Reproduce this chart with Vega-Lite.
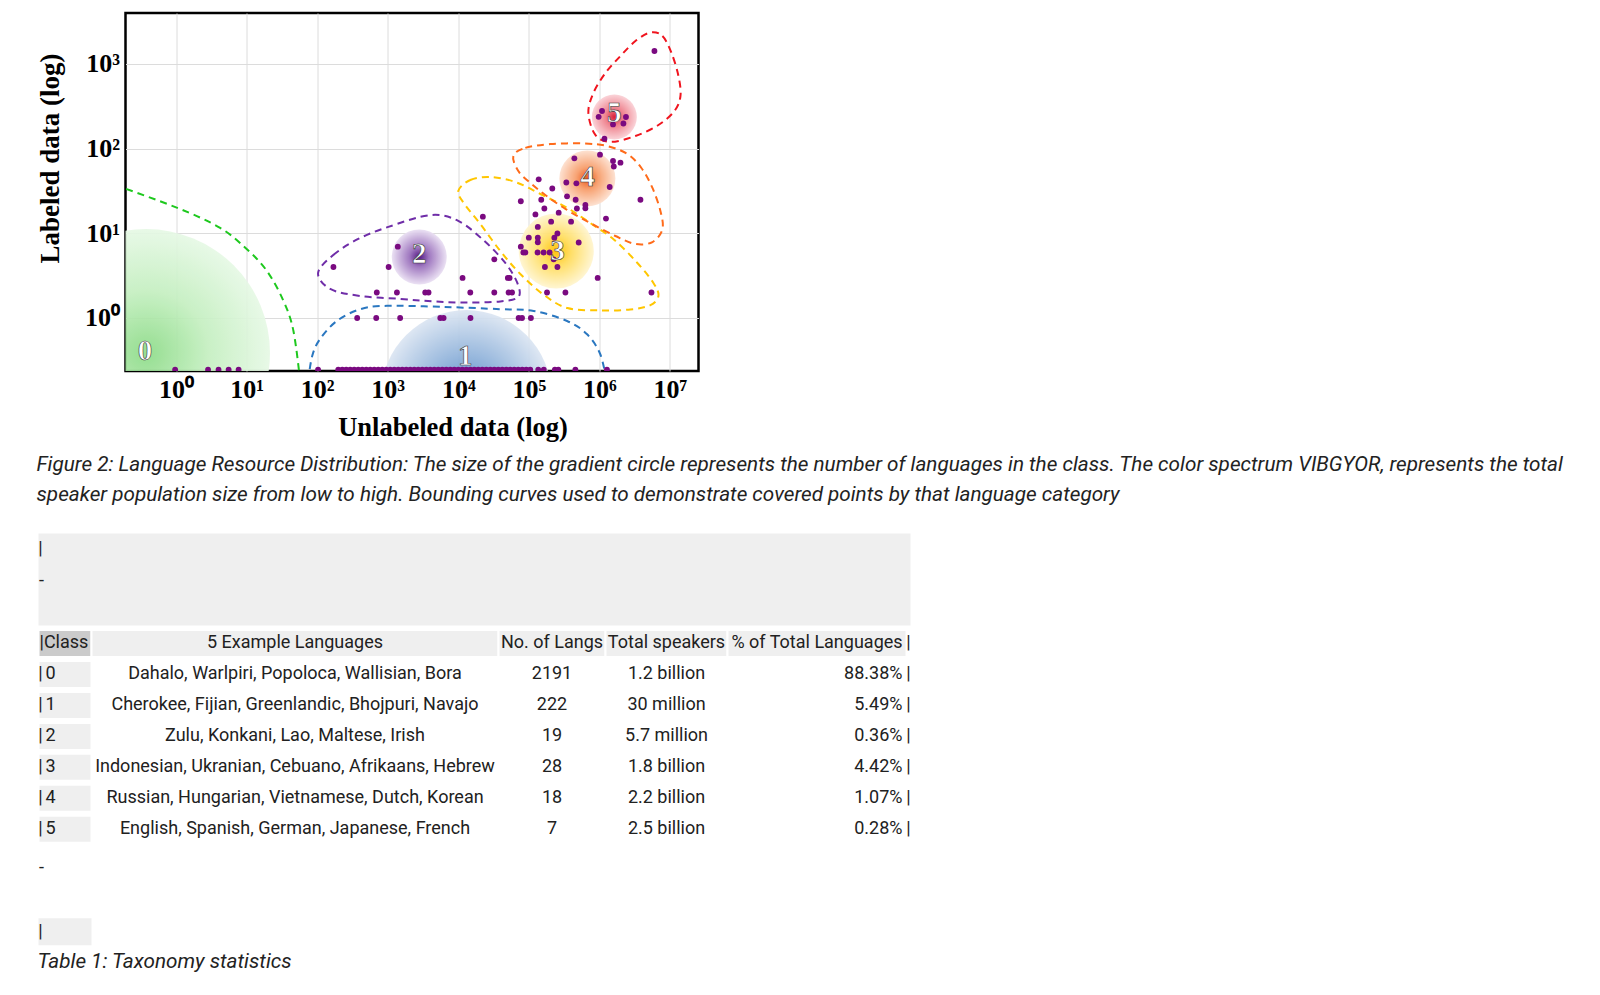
{
  "$schema": "https://vega.github.io/schema/vega-lite/v6.json",
  "background": "white",
  "padding": {"left": 34.5, "top": 11, "right": 5, "bottom": 5},
  "spacing": 26,
  "config": {"font": "Roboto", "view": {"stroke": null}},
  "datasets": {
    "classes": [
      {"class": 0, "x": 0.375, "y": 0.386},
      {"class": 1, "x": 13000, "y": 0.123},
      {"class": 2, "x": 2800, "y": 5.25},
      {"class": 3, "x": 245000, "y": 6.18},
      {"class": 4, "x": 676000, "y": 44.4},
      {"class": 5, "x": 1630000, "y": 236}
    ],
    "labels": [
      {"label": "0", "x": 0.363, "y": 0.408},
      {"label": "1", "x": 12600, "y": 0.356},
      {"label": "2", "x": 2800, "y": 5.7},
      {"label": "3", "x": 254000, "y": 6.18},
      {"label": "4", "x": 676000, "y": 46.2},
      {"label": "5", "x": 1630000, "y": 263}
    ],
    "curves_open": [
      {"curve": "c0", "i": 0, "x": 0.136, "y": 37.2},
      {"curve": "c0", "i": 1, "x": 1.02, "y": 20.1},
      {"curve": "c0", "i": 2, "x": 4.21, "y": 11.6},
      {"curve": "c0", "i": 3, "x": 10.1, "y": 6.47},
      {"curve": "c0", "i": 4, "x": 19.4, "y": 3.59},
      {"curve": "c0", "i": 5, "x": 33.3, "y": 1.59},
      {"curve": "c0", "i": 6, "x": 46.1, "y": 0.703},
      {"curve": "c0", "i": 7, "x": 57.4, "y": 0.18},
      {"curve": "c1", "i": 0, "x": 74.5, "y": 0.18},
      {"curve": "c1", "i": 1, "x": 85, "y": 0.356},
      {"curve": "c1", "i": 2, "x": 110, "y": 0.565},
      {"curve": "c1", "i": 3, "x": 190, "y": 0.922},
      {"curve": "c1", "i": 4, "x": 407, "y": 1.27},
      {"curve": "c1", "i": 5, "x": 975, "y": 1.39},
      {"curve": "c1", "i": 6, "x": 6190, "y": 1.35},
      {"curve": "c1", "i": 7, "x": 39400, "y": 1.27},
      {"curve": "c1", "i": 8, "x": 117000, "y": 1.21},
      {"curve": "c1", "i": 9, "x": 348000, "y": 0.922},
      {"curve": "c1", "i": 10, "x": 670000, "y": 0.642},
      {"curve": "c1", "i": 11, "x": 1030000, "y": 0.373},
      {"curve": "c1", "i": 12, "x": 1260000, "y": 0.18}
    ],
    "curves_closed": [
      {"curve": "c2", "i": 0, "x": 103, "y": 3.4},
      {"curve": "c2", "i": 1, "x": 169, "y": 5.54},
      {"curve": "c2", "i": 2, "x": 382, "y": 8.57},
      {"curve": "c2", "i": 3, "x": 1020, "y": 11.9},
      {"curve": "c2", "i": 4, "x": 4010, "y": 16.4},
      {"curve": "c2", "i": 5, "x": 10000, "y": 14.0},
      {"curve": "c2", "i": 6, "x": 23400, "y": 8.11},
      {"curve": "c2", "i": 7, "x": 46400, "y": 4.46},
      {"curve": "c2", "i": 8, "x": 68700, "y": 2.59},
      {"curve": "c2", "i": 9, "x": 71000, "y": 1.77},
      {"curve": "c2", "i": 10, "x": 39400, "y": 1.57},
      {"curve": "c2", "i": 11, "x": 13000, "y": 1.52},
      {"curve": "c2", "i": 12, "x": 4420, "y": 1.57},
      {"curve": "c2", "i": 13, "x": 1500, "y": 1.68},
      {"curve": "c2", "i": 14, "x": 407, "y": 1.82},
      {"curve": "c2", "i": 15, "x": 153, "y": 2.2},
      {"curve": "c3", "i": 0, "x": 10000, "y": 31.6},
      {"curve": "c3", "i": 1, "x": 14800, "y": 42.6},
      {"curve": "c3", "i": 2, "x": 28400, "y": 46.2},
      {"curve": "c3", "i": 3, "x": 64400, "y": 40.3},
      {"curve": "c3", "i": 4, "x": 146000, "y": 29.1},
      {"curve": "c3", "i": 5, "x": 352000, "y": 19.9},
      {"curve": "c3", "i": 6, "x": 745000, "y": 13.2},
      {"curve": "c3", "i": 7, "x": 1630000, "y": 8.34},
      {"curve": "c3", "i": 8, "x": 3460000, "y": 4.46},
      {"curve": "c3", "i": 9, "x": 5830000, "y": 2.59},
      {"curve": "c3", "i": 10, "x": 6870000, "y": 1.82},
      {"curve": "c3", "i": 11, "x": 5290000, "y": 1.42},
      {"curve": "c3", "i": 12, "x": 2750000, "y": 1.26},
      {"curve": "c3", "i": 13, "x": 1030000, "y": 1.23},
      {"curve": "c3", "i": 14, "x": 352000, "y": 1.31},
      {"curve": "c3", "i": 15, "x": 161000, "y": 1.89},
      {"curve": "c3", "i": 16, "x": 75700, "y": 3.31},
      {"curve": "c3", "i": 17, "x": 39400, "y": 6.18},
      {"curve": "c3", "i": 18, "x": 20500, "y": 12.9},
      {"curve": "c3", "i": 19, "x": 12200, "y": 22.2},
      {"curve": "c4", "i": 0, "x": 60300, "y": 81.8},
      {"curve": "c4", "i": 1, "x": 89200, "y": 102},
      {"curve": "c4", "i": 2, "x": 202000, "y": 113},
      {"curve": "c4", "i": 3, "x": 593000, "y": 115},
      {"curve": "c4", "i": 4, "x": 1300000, "y": 107},
      {"curve": "c4", "i": 5, "x": 2490000, "y": 86.3},
      {"curve": "c4", "i": 6, "x": 3940000, "y": 59.0},
      {"curve": "c4", "i": 7, "x": 5650000, "y": 34.3},
      {"curve": "c4", "i": 8, "x": 7330000, "y": 18.3},
      {"curve": "c4", "i": 9, "x": 7830000, "y": 11.2},
      {"curve": "c4", "i": 10, "x": 5650000, "y": 7.89},
      {"curve": "c4", "i": 11, "x": 3240000, "y": 7.48},
      {"curve": "c4", "i": 12, "x": 1690000, "y": 9.29},
      {"curve": "c4", "i": 13, "x": 745000, "y": 13.2},
      {"curve": "c4", "i": 14, "x": 330000, "y": 19.4},
      {"curve": "c4", "i": 15, "x": 171000, "y": 28.3},
      {"curve": "c4", "i": 16, "x": 105000, "y": 39.3},
      {"curve": "c4", "i": 17, "x": 71000, "y": 54.4},
      {"curve": "c5", "i": 0, "x": 5290000, "y": 2350},
      {"curve": "c5", "i": 1, "x": 7830000, "y": 2130},
      {"curve": "c5", "i": 2, "x": 10500000, "y": 1350},
      {"curve": "c5", "i": 3, "x": 13200000, "y": 720},
      {"curve": "c5", "i": 4, "x": 14100000, "y": 418},
      {"curve": "c5", "i": 5, "x": 11600000, "y": 278},
      {"curve": "c5", "i": 6, "x": 6870000, "y": 190},
      {"curve": "c5", "i": 7, "x": 3240000, "y": 141},
      {"curve": "c5", "i": 8, "x": 1430000, "y": 120},
      {"curve": "c5", "i": 9, "x": 877000, "y": 145},
      {"curve": "c5", "i": 10, "x": 698000, "y": 263},
      {"curve": "c5", "i": 11, "x": 822000, "y": 453},
      {"curve": "c5", "i": 12, "x": 1220000, "y": 781},
      {"curve": "c5", "i": 13, "x": 1990000, "y": 1240},
      {"curve": "c5", "i": 14, "x": 3240000, "y": 1860}
    ],
    "dots": [
      {"x": 170, "y": 4.0}, {"x": 1030, "y": 4.0}, {"x": 1390, "y": 6.95}, {"x": 700, "y": 2.0},
      {"x": 1350, "y": 2.0}, {"x": 3400, "y": 2.0}, {"x": 3790, "y": 2.0}, {"x": 11500, "y": 2.97},
      {"x": 14800, "y": 2.0}, {"x": 22300, "y": 15.7}, {"x": 32400, "y": 4.93}, {"x": 32400, "y": 2.0},
      {"x": 50400, "y": 2.97}, {"x": 53400, "y": 2.97}, {"x": 51700, "y": 2.0}, {"x": 57800, "y": 2.0},
      {"x": 369, "y": 1}, {"x": 687, "y": 1}, {"x": 1500, "y": 1}, {"x": 5560, "y": 1},
      {"x": 6190, "y": 1}, {"x": 14900, "y": 1}, {"x": 71700, "y": 1}, {"x": 80100, "y": 1},
      {"x": 107000, "y": 1}, {"x": 77000, "y": 23.9}, {"x": 77000, "y": 6.95}, {"x": 83600, "y": 5.93},
      {"x": 89200, "y": 5.93}, {"x": 100000, "y": 8.87}, {"x": 124000, "y": 16.7}, {"x": 133000, "y": 5.93},
      {"x": 134000, "y": 11.9}, {"x": 134000, "y": 8.87}, {"x": 134000, "y": 7.83}, {"x": 138000, "y": 43.4},
      {"x": 150000, "y": 24.9}, {"x": 162000, "y": 5.93}, {"x": 166000, "y": 19.6}, {"x": 169000, "y": 4.0},
      {"x": 181000, "y": 2.0}, {"x": 197000, "y": 5.93}, {"x": 207000, "y": 13.7}, {"x": 215000, "y": 33.8},
      {"x": 225000, "y": 4.93}, {"x": 230000, "y": 8.87}, {"x": 254000, "y": 9.95}, {"x": 254000, "y": 4.0},
      {"x": 265000, "y": 17.5}, {"x": 330000, "y": 2.0}, {"x": 340000, "y": 39.8}, {"x": 348000, "y": 27.3},
      {"x": 397000, "y": 13.7}, {"x": 442000, "y": 76.8}, {"x": 461000, "y": 24.9}, {"x": 472000, "y": 38.9},
      {"x": 480000, "y": 19.6}, {"x": 509000, "y": 7.79}, {"x": 633000, "y": 21.6}, {"x": 633000, "y": 19.7},
      {"x": 946000, "y": 2.97}, {"x": 1020000, "y": 84.7}, {"x": 1180000, "y": 131}, {"x": 1240000, "y": 14.9},
      {"x": 1400000, "y": 35.2}, {"x": 1560000, "y": 71.4}, {"x": 1600000, "y": 61.5}, {"x": 1990000, "y": 68.2},
      {"x": 3820000, "y": 24.9}, {"x": 5470000, "y": 2.0}, {"x": 977000, "y": 237}, {"x": 1090000, "y": 278},
      {"x": 1560000, "y": 193}, {"x": 2190000, "y": 198}, {"x": 2380000, "y": 236}, {"x": 6030000, "y": 1420},
      {"x": 0.97, "y": 0.245}, {"x": 2.84, "y": 0.245}, {"x": 4.0, "y": 0.245}, {"x": 5.56, "y": 0.245}, {"x": 7.7, "y": 0.245},
      {"x": 103, "y": 0.245}, {"x": 199, "y": 0.245}, {"x": 227, "y": 0.245}, {"x": 258, "y": 0.245}, {"x": 294, "y": 0.245},
      {"x": 335, "y": 0.245}, {"x": 382, "y": 0.245}, {"x": 435, "y": 0.245}, {"x": 496, "y": 0.245}, {"x": 565, "y": 0.245},
      {"x": 644, "y": 0.245}, {"x": 734, "y": 0.245}, {"x": 836, "y": 0.245}, {"x": 953, "y": 0.245}, {"x": 1086, "y": 0.245},
      {"x": 1237, "y": 0.245}, {"x": 1410, "y": 0.245}, {"x": 1606, "y": 0.245}, {"x": 1830, "y": 0.245}, {"x": 2086, "y": 0.245},
      {"x": 2377, "y": 0.245}, {"x": 2708, "y": 0.245}, {"x": 3086, "y": 0.245}, {"x": 3516, "y": 0.245}, {"x": 4007, "y": 0.245},
      {"x": 4566, "y": 0.245}, {"x": 5203, "y": 0.245}, {"x": 5929, "y": 0.245}, {"x": 6756, "y": 0.245}, {"x": 7698, "y": 0.245},
      {"x": 8772, "y": 0.245}, {"x": 9996, "y": 0.245}, {"x": 11390, "y": 0.245}, {"x": 12980, "y": 0.245}, {"x": 14790, "y": 0.245},
      {"x": 16850, "y": 0.245}, {"x": 19200, "y": 0.245}, {"x": 21880, "y": 0.245}, {"x": 24940, "y": 0.245}, {"x": 28410, "y": 0.245},
      {"x": 32380, "y": 0.245}, {"x": 36890, "y": 0.245}, {"x": 42040, "y": 0.245}, {"x": 47900, "y": 0.245}, {"x": 54590, "y": 0.245},
      {"x": 62200, "y": 0.245}, {"x": 70880, "y": 0.245}, {"x": 80760, "y": 0.245}, {"x": 92030, "y": 0.245}, {"x": 104870, "y": 0.245},
      {"x": 136000, "y": 0.245}, {"x": 163000, "y": 0.245}, {"x": 234000, "y": 0.245}, {"x": 262000, "y": 0.245},
      {"x": 457000, "y": 0.245}, {"x": 1280000, "y": 0.245}
    ],
    "table": [
      {"class": 0, "examples": "Dahalo, Warlpiri, Popoloca, Wallisian, Bora", "langs": 2191, "speakers": "1.2 billion", "pct": "88.38%"},
      {"class": 1, "examples": "Cherokee, Fijian, Greenlandic, Bhojpuri, Navajo", "langs": 222, "speakers": "30 million", "pct": "5.49%"},
      {"class": 2, "examples": "Zulu, Konkani, Lao, Maltese, Irish", "langs": 19, "speakers": "5.7 million", "pct": "0.36%"},
      {"class": 3, "examples": "Indonesian, Ukranian, Cebuano, Afrikaans, Hebrew", "langs": 28, "speakers": "1.8 billion", "pct": "4.42%"},
      {"class": 4, "examples": "Russian, Hungarian, Vietnamese, Dutch, Korean", "langs": 18, "speakers": "2.2 billion", "pct": "1.07%"},
      {"class": 5, "examples": "English, Spanish, German, Japanese, French", "langs": 7, "speakers": "2.5 billion", "pct": "0.28%"}
    ],
    "header": [
      {"label": "|Class", "c0": 0, "c1": 1, "pos": 0},
      {"label": "5 Example Languages", "c0": 1, "c1": 2, "pos": 1.5},
      {"label": "No. of Langs", "c0": 2, "c1": 3, "pos": 2.5},
      {"label": "Total speakers", "c0": 3, "c1": 4, "pos": 3.5},
      {"label": "% of Total Languages", "c0": 4, "c1": 5, "pos": 4.5}
    ]
  },
  "vconcat": [
    {
      "width": 573,
      "height": 358,
      "view": {"stroke": "black", "strokeWidth": 2.5},
      "title": {
        "text": [
          "Figure 2: Language Resource Distribution: The size of the gradient circle represents the number of languages in the class. The color spectrum VIBGYOR, represents the total",
          "speaker population size from low to high. Bounding curves used to demonstrate covered points by that language category"
        ],
        "orient": "bottom", "anchor": "start", "frame": "bounds",
        "font": "Roboto", "fontStyle": "italic", "fontWeight": "normal", "fontSize": 20.7,
        "color": "#222222", "lineHeight": 30, "offset": 14
      },
      "encoding": {
        "x": {
          "field": "x", "type": "quantitative",
          "scale": {"type": "log", "domain": [0.192, 25400000], "nice": false, "zero": false},
          "axis": {
            "title": "Unlabeled data (log)", "values": [1, 10, 100, 1000, 10000, 100000, 1000000, 10000000],
            "labelExpr": "'10' + ['⁰','¹','²','³','⁴','⁵','⁶','⁷'][round(log(datum.value)/LN10)]",
            "labelFont": "Liberation Serif", "labelFontSize": 26, "labelFontWeight": "bold", "labelColor": "black",
            "labelPadding": 5, "ticks": false, "domain": false, "grid": true, "gridColor": "#dcdcdc", "gridWidth": 1,
            "titleFont": "Liberation Serif", "titleFontSize": 26.5, "titleFontWeight": "bold", "titleColor": "black",
            "titlePadding": 12, "titleX": 327
          }
        },
        "y": {
          "field": "y", "type": "quantitative",
          "scale": {"type": "log", "domain": [0.2366, 3990], "nice": false, "zero": false},
          "axis": {
            "title": "Labeled data (log)", "values": [1, 10, 100, 1000],
            "labelExpr": "'10' + ['⁰','¹','²','³'][round(log(datum.value)/LN10)]",
            "labelFont": "Liberation Serif", "labelFontSize": 26, "labelFontWeight": "bold", "labelColor": "black",
            "labelPadding": 6, "ticks": false, "domain": false, "grid": true, "gridColor": "#dcdcdc", "gridWidth": 1,
            "titleFont": "Liberation Serif", "titleFontSize": 27, "titleFontWeight": "bold", "titleColor": "black",
            "titlePadding": 20, "titleY": 145
          }
        }
      },
      "layer": [
        {"data": {"name": "classes"}, "transform": [{"filter": "datum.class == 0"}],
         "mark": {"type": "point", "shape": "circle", "filled": true, "size": 61504, "clip": true, "strokeWidth": 0, "opacity": 0.92,
                  "fill": {"gradient": "radial", "x1": 0.5, "y1": 0.5, "r1": 0, "x2": 0.5, "y2": 0.5, "r2": 0.5,
                           "stops": [{"offset": 0, "color": "#8cdb87"}, {"offset": 0.5, "color": "#c4efc0"}, {"offset": 1, "color": "#e6f8e5"}]}}},
        {"data": {"name": "classes"}, "transform": [{"filter": "datum.class == 1"}],
         "mark": {"type": "point", "shape": "circle", "filled": true, "size": 28900, "clip": true, "strokeWidth": 0, "opacity": 0.92,
                  "fill": {"gradient": "radial", "x1": 0.5, "y1": 0.5, "r1": 0, "x2": 0.5, "y2": 0.5, "r2": 0.5,
                           "stops": [{"offset": 0, "color": "#2262ac"}, {"offset": 0.35, "color": "#7fa7d5"}, {"offset": 1, "color": "#dbe5f2"}]}}},
        {"data": {"name": "classes"}, "transform": [{"filter": "datum.class == 2"}],
         "mark": {"type": "point", "shape": "circle", "filled": true, "size": 3025, "clip": true, "strokeWidth": 0, "opacity": 0.95,
                  "fill": {"gradient": "radial", "x1": 0.5, "y1": 0.5, "r1": 0, "x2": 0.5, "y2": 0.5, "r2": 0.5,
                           "stops": [{"offset": 0, "color": "#4a0c7e"}, {"offset": 0.35, "color": "#9a70bc"}, {"offset": 1, "color": "#eae0f3"}]}}},
        {"data": {"name": "classes"}, "transform": [{"filter": "datum.class == 3"}],
         "mark": {"type": "point", "shape": "circle", "filled": true, "size": 5625, "clip": true, "strokeWidth": 0, "opacity": 0.95,
                  "fill": {"gradient": "radial", "x1": 0.5, "y1": 0.5, "r1": 0, "x2": 0.5, "y2": 0.5, "r2": 0.5,
                           "stops": [{"offset": 0, "color": "#ffc000"}, {"offset": 0.4, "color": "#ffdd60"}, {"offset": 1, "color": "#fff5d0"}]}}},
        {"data": {"name": "classes"}, "transform": [{"filter": "datum.class == 4"}],
         "mark": {"type": "point", "shape": "circle", "filled": true, "size": 3136, "clip": true, "strokeWidth": 0, "opacity": 0.95,
                  "fill": {"gradient": "radial", "x1": 0.5, "y1": 0.5, "r1": 0, "x2": 0.5, "y2": 0.5, "r2": 0.5,
                           "stops": [{"offset": 0, "color": "#ea500e"}, {"offset": 0.4, "color": "#f79e6c"}, {"offset": 1, "color": "#fde0cf"}]}}},
        {"data": {"name": "classes"}, "transform": [{"filter": "datum.class == 5"}],
         "mark": {"type": "point", "shape": "circle", "filled": true, "size": 2025, "clip": true, "strokeWidth": 0, "opacity": 0.95,
                  "fill": {"gradient": "radial", "x1": 0.5, "y1": 0.5, "r1": 0, "x2": 0.5, "y2": 0.5, "r2": 0.5,
                           "stops": [{"offset": 0, "color": "#d8132e"}, {"offset": 0.4, "color": "#ee7e8a"}, {"offset": 1, "color": "#fad2d7"}]}}},
        {"data": {"name": "curves_open"},
         "mark": {"type": "line", "interpolate": "cardinal", "strokeDash": [7, 5], "strokeWidth": 2, "clip": true},
         "encoding": {
           "color": {"field": "curve", "type": "nominal", "legend": null,
                     "scale": {"domain": ["c0", "c1", "c2", "c3", "c4", "c5"], "range": ["#1ec81e", "#2a77c0", "#6f2da8", "#ffc600", "#ff6b1a", "#f0141e"]}},
           "order": {"field": "i", "type": "quantitative"}
         }},
        {"data": {"name": "curves_closed"},
         "mark": {"type": "line", "interpolate": "cardinal-closed", "strokeDash": [7, 5], "strokeWidth": 2, "clip": true},
         "encoding": {
           "color": {"field": "curve", "type": "nominal", "legend": null},
           "order": {"field": "i", "type": "quantitative"}
         }},
        {"data": {"name": "dots"},
         "mark": {"type": "circle", "size": 34, "color": "#7a0a80", "opacity": 1, "clip": true}},
        {"data": {"name": "labels"},
         "mark": {"type": "text", "font": "Liberation Serif", "fontWeight": "bold", "fontSize": 29, "fill": "white",
                  "stroke": "#333333", "strokeWidth": 0.6, "align": "center", "baseline": "middle"},
         "encoding": {"text": {"field": "label"}}}
      ]
    },
    {
      "width": 872,
      "height": 415,
      "title": {
        "text": "Table 1: Taxonomy statistics",
        "orient": "bottom", "anchor": "start", "frame": "bounds",
        "font": "Roboto", "fontStyle": "italic", "fontWeight": "normal", "fontSize": 20.7,
        "color": "#222222", "offset": 5
      },
      "layer": [
        {"data": {"values": [{}]},
         "mark": {"type": "rect", "fill": "#efefef"},
         "encoding": {
           "x": {"datum": 0, "type": "quantitative", "axis": null,
                 "scale": {"domain": [0, 1, 2, 3, 4, 5, 6], "range": [-87, -34, 373, 480, 602, 781, 785], "zero": false, "nice": false}},
           "x2": {"datum": 6},
           "y": {"datum": -4.55, "type": "quantitative", "axis": null,
                 "scale": {"domain": [-4.6, 8.8], "reverse": true, "zero": false, "nice": false}},
           "y2": {"datum": -1.58}
         }},
        {"data": {"values": [{}]},
         "mark": {"type": "rect", "fill": "#efefef"},
         "encoding": {
           "x": {"datum": 0, "type": "quantitative", "axis": null}, "x2": {"datum": 1},
           "y": {"datum": 7.87, "type": "quantitative", "axis": null}, "y2": {"datum": 8.74}
         }},
        {"data": {"name": "header"},
         "mark": {"type": "rect", "stroke": "white", "strokeWidth": 2, "yOffset": -13.5, "y2Offset": 13.5},
         "encoding": {
           "x": {"field": "c0", "type": "quantitative", "axis": null}, "x2": {"field": "c1"},
           "y": {"datum": -1, "type": "quantitative", "axis": null}, "y2": {"datum": -1},
           "fill": {"condition": {"test": "datum.c0 == 0", "value": "#cbcbcb"}, "value": "#efefef"}
         }},
        {"data": {"name": "table"},
         "mark": {"type": "rect", "fill": "#efefef", "stroke": "white", "strokeWidth": 2, "yOffset": -13.5, "y2Offset": 13.5},
         "encoding": {
           "x": {"datum": 0, "type": "quantitative", "axis": null}, "x2": {"datum": 1},
           "y": {"field": "class", "type": "quantitative", "axis": null}, "y2": {"field": "class"}
         }},
        {"data": {"name": "header"}, "transform": [{"filter": "datum.c0 == 0"}],
         "mark": {"type": "text", "font": "Roboto", "fontSize": 18, "color": "#212121", "align": "left", "baseline": "middle", "dx": 1},
         "encoding": {
           "x": {"field": "c0", "type": "quantitative", "axis": null},
           "y": {"datum": -1, "type": "quantitative", "axis": null},
           "text": {"field": "label"}
         }},
        {"data": {"name": "header"}, "transform": [{"filter": "datum.c0 > 0"}],
         "mark": {"type": "text", "font": "Roboto", "fontSize": 18, "color": "#212121", "align": "center", "baseline": "middle"},
         "encoding": {
           "x": {"field": "pos", "type": "quantitative", "axis": null},
           "y": {"datum": -1, "type": "quantitative", "axis": null},
           "text": {"field": "label"}
         }},
        {"data": {"values": [{}]},
         "mark": {"type": "text", "font": "Roboto", "fontSize": 18, "color": "#212121", "align": "center", "baseline": "middle", "dx": 2, "text": "|"},
         "encoding": {"x": {"datum": 5, "type": "quantitative", "axis": null}, "y": {"datum": -1, "type": "quantitative", "axis": null}}},
        {"data": {"name": "table"},
         "mark": {"type": "text", "font": "Roboto", "fontSize": 18, "color": "#212121", "align": "center", "baseline": "middle", "dx": 2, "text": "|"},
         "encoding": {"x": {"datum": 0, "type": "quantitative", "axis": null}, "y": {"field": "class", "type": "quantitative", "axis": null}}},
        {"data": {"name": "table"},
         "mark": {"type": "text", "font": "Roboto", "fontSize": 18, "color": "#212121", "align": "left", "baseline": "middle", "dx": 7},
         "encoding": {"x": {"datum": 0, "type": "quantitative", "axis": null}, "y": {"field": "class", "type": "quantitative", "axis": null}, "text": {"field": "class"}}},
        {"data": {"name": "table"},
         "mark": {"type": "text", "font": "Roboto", "fontSize": 18, "color": "#212121", "align": "center", "baseline": "middle"},
         "encoding": {"x": {"datum": 1.5, "type": "quantitative", "axis": null}, "y": {"field": "class", "type": "quantitative", "axis": null}, "text": {"field": "examples"}}},
        {"data": {"name": "table"},
         "mark": {"type": "text", "font": "Roboto", "fontSize": 18, "color": "#212121", "align": "center", "baseline": "middle"},
         "encoding": {"x": {"datum": 2.5, "type": "quantitative", "axis": null}, "y": {"field": "class", "type": "quantitative", "axis": null}, "text": {"field": "langs"}}},
        {"data": {"name": "table"},
         "mark": {"type": "text", "font": "Roboto", "fontSize": 18, "color": "#212121", "align": "center", "baseline": "middle"},
         "encoding": {"x": {"datum": 3.5, "type": "quantitative", "axis": null}, "y": {"field": "class", "type": "quantitative", "axis": null}, "text": {"field": "speakers"}}},
        {"data": {"name": "table"},
         "mark": {"type": "text", "font": "Roboto", "fontSize": 18, "color": "#212121", "align": "right", "baseline": "middle", "dx": -4},
         "encoding": {"x": {"datum": 5, "type": "quantitative", "axis": null}, "y": {"field": "class", "type": "quantitative", "axis": null}, "text": {"field": "pct"}}},
        {"data": {"name": "table"},
         "mark": {"type": "text", "font": "Roboto", "fontSize": 18, "color": "#212121", "align": "center", "baseline": "middle", "dx": 2, "text": "|"},
         "encoding": {"x": {"datum": 5, "type": "quantitative", "axis": null}, "y": {"field": "class", "type": "quantitative", "axis": null}}},
        {"data": {"values": [{}]},
         "mark": {"type": "text", "font": "Roboto", "fontSize": 18, "color": "#212121", "align": "center", "baseline": "middle", "dx": 2, "text": "|"},
         "encoding": {"x": {"datum": 0, "type": "quantitative", "axis": null}, "y": {"datum": -4.05, "type": "quantitative", "axis": null}}},
        {"data": {"values": [{}]},
         "mark": {"type": "text", "font": "Roboto", "fontSize": 18, "color": "#212121", "align": "center", "baseline": "middle", "dx": 3, "text": "-"},
         "encoding": {"x": {"datum": 0, "type": "quantitative", "axis": null}, "y": {"datum": -3.03, "type": "quantitative", "axis": null}}},
        {"data": {"values": [{}]},
         "mark": {"type": "text", "font": "Roboto", "fontSize": 18, "color": "#212121", "align": "center", "baseline": "middle", "dx": 3, "text": "-"},
         "encoding": {"x": {"datum": 0, "type": "quantitative", "axis": null}, "y": {"datum": 6.26, "type": "quantitative", "axis": null}}},
        {"data": {"values": [{}]},
         "mark": {"type": "text", "font": "Roboto", "fontSize": 18, "color": "#212121", "align": "center", "baseline": "middle", "dx": 2, "text": "|"},
         "encoding": {"x": {"datum": 0, "type": "quantitative", "axis": null}, "y": {"datum": 8.32, "type": "quantitative", "axis": null}}}
      ]
    }
  ]
}
